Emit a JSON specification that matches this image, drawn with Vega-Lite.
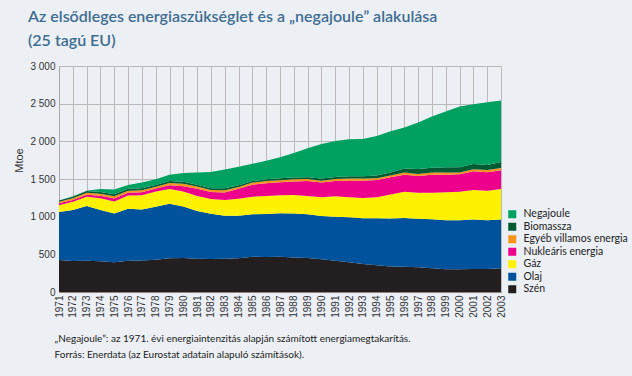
{
  "$schema": "https://vega.github.io/schema/vega-lite/v6.json",
  "width": 442,
  "height": 226,
  "autosize": "none",
  "padding": {"left": 59, "top": 66, "right": 131, "bottom": 84},
  "background": "#ecf0f5",
  "config": {"view": {"stroke": null}, "font": "Lato"},
  "title": {
    "text": ["Az elsődleges energiaszükséglet és a „negajoule” alakulása", "(25 tagú EU)"],
    "anchor": "start",
    "frame": "group",
    "dx": -31,
    "offset": 12,
    "font": "Lato",
    "fontSize": 16,
    "fontWeight": 600,
    "color": "#3e6d92",
    "lineHeight": 24
  },
  "data": {
    "values": [
      {"ev": 1971, "Szén": 425, "Olaj": 637, "Gáz": 91, "Nukleáris energia": 25, "Egyéb villamos energia": 19, "Biomassza": 17, "Negajoule": 0},
      {"ev": 1972, "Szén": 412, "Olaj": 675, "Gáz": 111, "Nukleáris energia": 24, "Egyéb villamos energia": 22, "Biomassza": 22, "Negajoule": 4},
      {"ev": 1973, "Szén": 416, "Olaj": 724, "Gáz": 124, "Nukleáris energia": 26, "Egyéb villamos energia": 29, "Biomassza": 21, "Negajoule": 3},
      {"ev": 1974, "Szén": 407, "Olaj": 682, "Gáz": 156, "Nukleáris energia": 32, "Egyéb villamos energia": 26, "Biomassza": 25, "Negajoule": 40},
      {"ev": 1975, "Szén": 396, "Olaj": 647, "Gáz": 157, "Nukleáris energia": 40, "Egyéb villamos energia": 30, "Biomassza": 26, "Negajoule": 64},
      {"ev": 1976, "Szén": 414, "Olaj": 690, "Gáz": 176, "Nukleáris energia": 38, "Egyéb villamos energia": 27, "Biomassza": 27, "Negajoule": 49},
      {"ev": 1977, "Szén": 418, "Olaj": 677, "Gáz": 188, "Nukleáris energia": 42, "Egyéb villamos energia": 27, "Biomassza": 24, "Negajoule": 76},
      {"ev": 1978, "Szén": 429, "Olaj": 704, "Gáz": 200, "Nukleáris energia": 40, "Egyéb villamos energia": 25, "Biomassza": 24, "Negajoule": 76},
      {"ev": 1979, "Szén": 449, "Olaj": 721, "Gáz": 198, "Nukleáris energia": 50, "Egyéb villamos energia": 28, "Biomassza": 26, "Negajoule": 83},
      {"ev": 1980, "Szén": 451, "Olaj": 684, "Gáz": 200, "Nukleáris energia": 70, "Egyéb villamos energia": 32, "Biomassza": 27, "Negajoule": 116},
      {"ev": 1981, "Szén": 440, "Olaj": 635, "Gáz": 200, "Nukleáris energia": 95, "Egyéb villamos energia": 30, "Biomassza": 24, "Negajoule": 161},
      {"ev": 1982, "Szén": 438, "Olaj": 602, "Gáz": 193, "Nukleáris energia": 93, "Egyéb villamos energia": 27, "Biomassza": 23, "Negajoule": 217},
      {"ev": 1983, "Szén": 440, "Olaj": 571, "Gáz": 211, "Nukleáris energia": 100, "Egyéb villamos energia": 30, "Biomassza": 24, "Negajoule": 249},
      {"ev": 1984, "Szén": 447, "Olaj": 564, "Gáz": 228, "Nukleáris energia": 131, "Egyéb villamos energia": 25, "Biomassza": 23, "Negajoule": 244},
      {"ev": 1985, "Szén": 467, "Olaj": 565, "Gáz": 234, "Nukleáris energia": 159, "Egyéb villamos energia": 27, "Biomassza": 20, "Negajoule": 230},
      {"ev": 1986, "Szén": 465, "Olaj": 571, "Gáz": 239, "Nukleáris energia": 170, "Egyéb villamos energia": 30, "Biomassza": 22, "Negajoule": 245},
      {"ev": 1987, "Szén": 467, "Olaj": 578, "Gáz": 239, "Nukleáris energia": 173, "Egyéb villamos energia": 28, "Biomassza": 24, "Negajoule": 281},
      {"ev": 1988, "Szén": 458, "Olaj": 584, "Gáz": 244, "Nukleáris energia": 182, "Egyéb villamos energia": 28, "Biomassza": 24, "Negajoule": 325},
      {"ev": 1989, "Szén": 452, "Olaj": 580, "Gáz": 243, "Nukleáris energia": 199, "Egyéb villamos energia": 26, "Biomassza": 23, "Negajoule": 385},
      {"ev": 1990, "Szén": 434, "Olaj": 575, "Gáz": 248, "Nukleáris energia": 195, "Egyéb villamos energia": 26, "Biomassza": 27, "Negajoule": 460},
      {"ev": 1991, "Szén": 416, "Olaj": 584, "Gáz": 270, "Nukleáris energia": 204, "Egyéb villamos energia": 26, "Biomassza": 25, "Negajoule": 480},
      {"ev": 1992, "Szén": 394, "Olaj": 598, "Gáz": 265, "Nukleáris energia": 221, "Egyéb villamos energia": 27, "Biomassza": 31, "Negajoule": 491},
      {"ev": 1993, "Szén": 372, "Olaj": 607, "Gáz": 269, "Nukleáris energia": 230, "Egyéb villamos energia": 27, "Biomassza": 31, "Negajoule": 496},
      {"ev": 1994, "Szén": 354, "Olaj": 625, "Gáz": 278, "Nukleáris energia": 230, "Egyéb villamos energia": 22, "Biomassza": 36, "Negajoule": 527},
      {"ev": 1995, "Szén": 340, "Olaj": 635, "Gáz": 320, "Nukleáris energia": 228, "Egyéb villamos energia": 24, "Biomassza": 40, "Negajoule": 548},
      {"ev": 1996, "Szén": 336, "Olaj": 647, "Gáz": 349, "Nukleáris energia": 226, "Egyéb villamos energia": 27, "Biomassza": 53, "Negajoule": 544},
      {"ev": 1997, "Szén": 328, "Olaj": 646, "Gáz": 345, "Nukleáris energia": 222, "Egyéb villamos energia": 26, "Biomassza": 67, "Negajoule": 615},
      {"ev": 1998, "Szén": 314, "Olaj": 651, "Gáz": 354, "Nukleáris energia": 239, "Egyéb villamos energia": 27, "Biomassza": 66, "Negajoule": 677},
      {"ev": 1999, "Szén": 301, "Olaj": 651, "Gáz": 371, "Nukleáris energia": 235, "Egyéb villamos energia": 27, "Biomassza": 70, "Negajoule": 740},
      {"ev": 2000, "Szén": 301, "Olaj": 651, "Gáz": 380, "Nukleáris energia": 230, "Egyéb villamos energia": 23, "Biomassza": 70, "Negajoule": 806},
      {"ev": 2001, "Szén": 305, "Olaj": 656, "Gáz": 394, "Nukleáris energia": 247, "Egyéb villamos energia": 27, "Biomassza": 71, "Negajoule": 792},
      {"ev": 2002, "Szén": 305, "Olaj": 647, "Gáz": 393, "Nukleáris energia": 244, "Egyéb villamos energia": 31, "Biomassza": 67, "Negajoule": 832},
      {"ev": 2003, "Szén": 314, "Olaj": 647, "Gáz": 407, "Nukleáris energia": 248, "Egyéb villamos energia": 31, "Biomassza": 79, "Negajoule": 815}
    ]
  },
  "transform": [
    {"fold": ["Szén", "Olaj", "Gáz", "Nukleáris energia", "Egyéb villamos energia", "Biomassza", "Negajoule"], "as": ["forras", "mtoe"]},
    {
      "lookup": "forras",
      "from": {
        "data": {
          "values": [
            {"forras": "Szén", "rang": 1},
            {"forras": "Olaj", "rang": 2},
            {"forras": "Gáz", "rang": 3},
            {"forras": "Nukleáris energia", "rang": 4},
            {"forras": "Egyéb villamos energia", "rang": 5},
            {"forras": "Biomassza", "rang": 6},
            {"forras": "Negajoule", "rang": 7}
          ]
        },
        "key": "forras",
        "fields": ["rang"]
      }
    }
  ],
  "mark": {"type": "area", "interpolate": "linear"},
  "encoding": {
    "x": {
      "field": "ev",
      "type": "quantitative",
      "scale": {"domain": [1971, 2003], "nice": false, "zero": false},
      "axis": {
        "values": [1971,1972,1973,1974,1975,1976,1977,1978,1979,1980,1981,1982,1983,1984,1985,1986,1987,1988,1989,1990,1991,1992,1993,1994,1995,1996,1997,1998,1999,2000,2001,2002,2003],
        "format": "d",
        "labelAngle": 270,
        "labelAlign": "right",
        "labelBaseline": "middle",
        "labelPadding": 3,
        "labelFont": "Liberation Sans",
        "labelFontSize": 10,
        "labelColor": "#333333",
        "labelOverlap": false,
        "ticks": false,
        "grid": true,
        "gridColor": "#b9b9b9",
        "gridWidth": 1,
        "domainColor": "#8e847c",
        "title": ["„Negajoule”: az 1971. évi energiaintenzitás alapján számított energiamegtakarítás.", "Forrás: Enerdata (az Eurostat adatain alapuló számítások)."],
        "titleFont": "Lato",
        "titleFontSize": 10,
        "titleFontWeight": "normal",
        "titleColor": "#222222",
        "titleAnchor": "start",
        "titleAlign": "left",
        "titleBaseline": "alphabetic",
        "titleX": -5,
        "titleY": 49,
        "titleLineHeight": 16
      }
    },
    "y": {
      "field": "mtoe",
      "type": "quantitative",
      "stack": "zero",
      "scale": {"domain": [0, 3000], "nice": false},
      "axis": {
        "values": [0, 500, 1000, 1500, 2000, 2500, 3000],
        "labelExpr": "replace(format(datum.value, ','), ',', ' ')",
        "labelFont": "Liberation Sans",
        "labelFontSize": 10,
        "labelColor": "#333333",
        "labelPadding": 4,
        "ticks": false,
        "grid": true,
        "gridColor": "#b9b9b9",
        "gridWidth": 1,
        "domainColor": "#a8a8a8",
        "title": "Mtoe",
        "titleFont": "Liberation Sans",
        "titleFontSize": 11,
        "titleFontWeight": "normal",
        "titleColor": "#333333",
        "titleX": -35,
        "titleY": 94
      }
    },
    "color": {
      "field": "forras",
      "type": "nominal",
      "scale": {
        "domain": ["Negajoule", "Biomassza", "Egyéb villamos energia", "Nukleáris energia", "Gáz", "Olaj", "Szén"],
        "range": ["#00a160", "#005a32", "#f7941d", "#ec008c", "#fff200", "#00529c", "#231f20"]
      },
      "legend": {
        "orient": "none",
        "legendX": 448,
        "legendY": 143,
        "title": null,
        "symbolType": "square",
        "symbolSize": 64,
        "symbolStrokeWidth": 0,
        "labelFont": "Lato",
        "labelFontSize": 10.5,
        "labelColor": "#222222",
        "labelOffset": 6,
        "rowPadding": 1.5
      }
    },
    "order": {"field": "rang", "type": "quantitative"}
  }
}
